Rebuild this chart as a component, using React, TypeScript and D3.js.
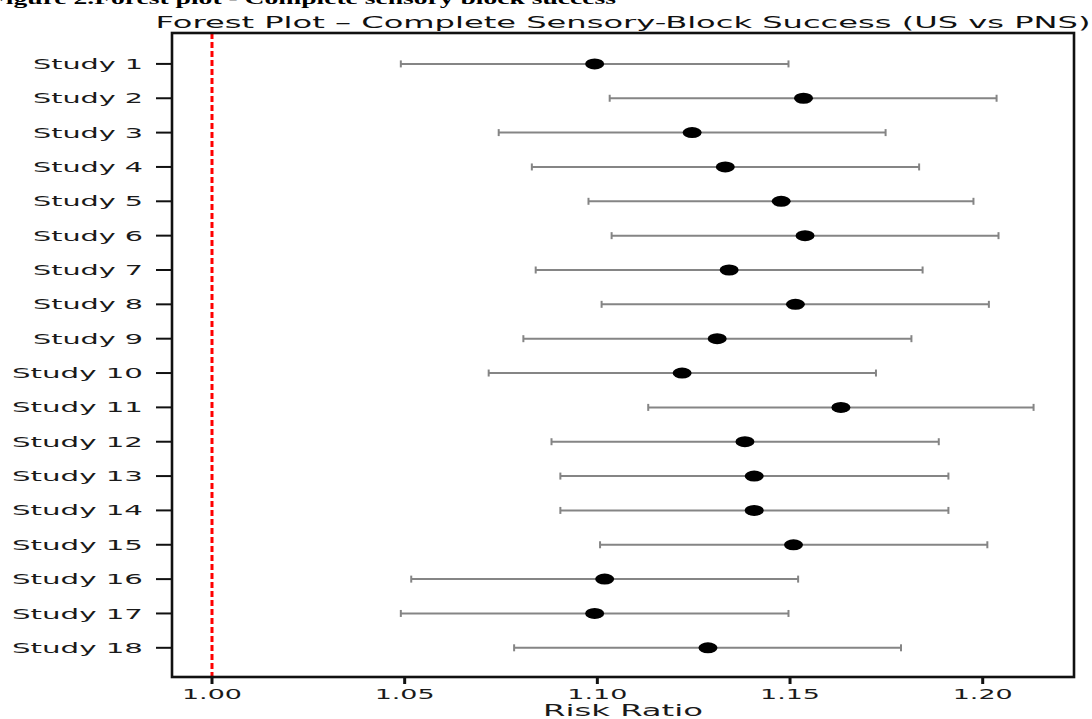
import React, { useRef, useEffect } from 'react';
import * as d3 from 'd3';

const studies = [
    "Study 1", "Study 2", "Study 3", "Study 4", "Study 5", "Study 6",
    "Study 7", "Study 8", "Study 9", "Study 10", "Study 11", "Study 12",
    "Study 13", "Study 14", "Study 15", "Study 16", "Study 17", "Study 18"
];

const riskRatio = [
    1.0993, 1.1535, 1.1246, 1.1332, 1.1477, 1.1539,
    1.1342, 1.1514, 1.1311, 1.1220, 1.1632, 1.1383,
    1.1407, 1.1407, 1.1509, 1.1019, 1.0993, 1.1287
];

const ciLower = [
    1.0490, 1.1032, 1.0744, 1.0830, 1.0977, 1.1037,
    1.0840, 1.1011, 1.0808, 1.0718, 1.1132, 1.0881,
    1.0904, 1.0904, 1.1007, 1.0517, 1.0490, 1.0784
];

const ciUpper = [
    1.1496, 1.2036, 1.1748, 1.1835, 1.1976, 1.2041,
    1.1844, 1.2016, 1.1815, 1.1723, 1.2132, 1.1886,
    1.1911, 1.1911, 1.2012, 1.1521, 1.1496, 1.1788
];

const xTicks = [1.00, 1.05, 1.10, 1.15, 1.20];

const ForestPlot: React.FC = () => {
    const svgRef = useRef<SVGSVGElement | null>(null);

    useEffect(() => {
        const svg = d3.select(svgRef.current);
        svg.selectAll('*').remove();
        const width = 1092;
        const height = 719;
        const margin = { top: 33, right: 18, bottom: 42, left: 172 };
        const font = 'DejaVu Sans, Verdana, sans-serif';

        svg
            .attr('width', width)
            .attr('height', height)
            .style('background', '#fff')
            .style('position', 'absolute')
            .style('left', '0px')
            .style('top', '0px');

        const x = d3.scaleLinear()
            .domain([0.98962, 1.22369])
            .range([margin.left, width - margin.right]);

        // study 1 at top, a little padding top and bottom
        const y = d3.scaleLinear()
            .domain([-0.9, studies.length - 1 + 0.85])
            .range([margin.top, height - margin.bottom]);

        const rows = studies.map((s, i) => ({
            name: s, rr: riskRatio[i], lo: ciLower[i], hi: ciUpper[i], i
        }));

        // caption from the paper, cut at the top
        svg.append('text')
            .attr('x', -11)
            .attr('y', 4)
            .attr('textLength', 627)
            .attr('lengthAdjust', 'spacingAndGlyphs')
            .style('font-family', '"Liberation Serif", "Times New Roman", serif')
            .style('font-weight', 'bold')
            .style('font-size', '17px')
            .text('Figure 2.Forest plot - Complete sensory block success');

        // title
        svg.append('text')
            .attr('x', (margin.left + width - margin.right) / 2)
            .attr('y', 28)
            .attr('text-anchor', 'middle')
            .attr('textLength', 935)
            .attr('lengthAdjust', 'spacingAndGlyphs')
            .style('font-family', font)
            .style('font-size', '15px')
            .style('fill', '#111')
            .text('Forest Plot \u2013 Complete Sensory-Block Success (US vs PNS)');

        // reference line
        svg.append('line')
            .attr('x1', x(1)).attr('x2', x(1))
            .attr('y1', margin.top).attr('y2', height - margin.bottom)
            .attr('stroke', '#ff0000')
            .attr('stroke-width', 3)
            .attr('stroke-dasharray', '6,3');

        // error bars
        const bars = svg.append('g');
        bars.selectAll('line.ci')
            .data(rows)
            .enter()
            .append('line')
            .attr('class', 'ci')
            .attr('x1', d => x(d.lo))
            .attr('x2', d => x(d.hi))
            .attr('y1', d => y(d.i))
            .attr('y2', d => y(d.i))
            .attr('stroke', '#858585')
            .attr('stroke-width', 2);

        ['lo', 'hi'].forEach(k => {
            bars.selectAll('line.cap-' + k)
                .data(rows)
                .enter()
                .append('line')
                .attr('class', 'cap-' + k)
                .attr('x1', d => x(d[k]))
                .attr('x2', d => x(d[k]))
                .attr('y1', d => y(d.i) - 3.5)
                .attr('y2', d => y(d.i) + 3.5)
                .attr('stroke', '#858585')
                .attr('stroke-width', 2);
        });

        bars.selectAll('ellipse')
            .data(rows)
            .enter()
            .append('ellipse')
            .attr('cx', d => x(d.rr))
            .attr('cy', d => y(d.i))
            .attr('rx', 9.5)
            .attr('ry', 5.5)
            .attr('fill', '#000');

        // frame
        svg.append('rect')
            .attr('x', margin.left)
            .attr('y', margin.top)
            .attr('width', width - margin.right - margin.left)
            .attr('height', height - margin.bottom - margin.top)
            .attr('fill', 'none')
            .attr('stroke', '#111')
            .attr('stroke-width', 2.6);

        // y axis ticks and labels
        const yAxis = svg.append('g');
        yAxis.selectAll('line')
            .data(rows)
            .enter()
            .append('line')
            .attr('x1', margin.left - 16)
            .attr('x2', margin.left)
            .attr('y1', d => y(d.i))
            .attr('y2', d => y(d.i))
            .attr('stroke', '#111')
            .attr('stroke-width', 2);

        yAxis.selectAll('text')
            .data(rows)
            .enter()
            .append('text')
            .attr('x', margin.left - 29)
            .attr('y', d => y(d.i))
            .attr('dy', '0.35em')
            .attr('text-anchor', 'end')
            .attr('textLength', d => d.name.length > 7 ? 131 : 110)
            .attr('lengthAdjust', 'spacingAndGlyphs')
            .style('font-family', font)
            .style('font-size', '14.5px')
            .style('fill', '#1a1a1a')
            .text(d => d.name);

        // x axis ticks and labels
        const xAxis = svg.append('g');
        const bottom = height - margin.bottom;
        xAxis.selectAll('line')
            .data(xTicks)
            .enter()
            .append('line')
            .attr('x1', d => x(d))
            .attr('x2', d => x(d))
            .attr('y1', bottom)
            .attr('y2', bottom + 7)
            .attr('stroke', '#111')
            .attr('stroke-width', 3);

        xAxis.selectAll('text')
            .data(xTicks)
            .enter()
            .append('text')
            .attr('x', d => x(d))
            .attr('y', 699)
            .attr('text-anchor', 'middle')
            .attr('textLength', 60)
            .attr('lengthAdjust', 'spacingAndGlyphs')
            .style('font-family', font)
            .style('font-size', '14.5px')
            .style('fill', '#1a1a1a')
            .text(d => d3.format('.2f')(d));

        svg.append('text')
            .attr('x', (margin.left + width - margin.right) / 2)
            .attr('y', 716)
            .attr('text-anchor', 'middle')
            .attr('textLength', 160)
            .attr('lengthAdjust', 'spacingAndGlyphs')
            .style('font-family', font)
            .style('font-size', '15.5px')
            .style('fill', '#1a1a1a')
            .text('Risk Ratio');
    }, []);

    return <svg ref={svgRef}></svg>;
};

export default function App() {
    return <ForestPlot />;
}
